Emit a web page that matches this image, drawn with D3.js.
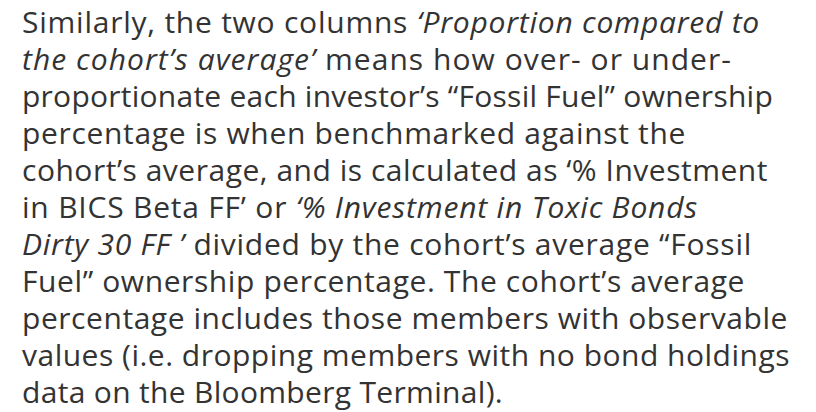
<!DOCTYPE html>
<html>
<head>
<meta charset="utf-8">
<script src="https://cdn.jsdelivr.net/npm/d3@7"></script>
<style>
  html, body { margin: 0; padding: 0; background: #fff; }
</style>
</head>
<body>
<svg id="chart"></svg>
<script>
// each line is a list of [text, italic] pieces
var lines = [
  [['Similarly, the two columns ', false], ['\u2018Proportion compared to', true]],
  [['the cohort\u2019s average\u2019', true], [' means how over- or under-', false]],
  [['proportionate each investor\u2019s \u201cFossil Fuel\u201d ownership', false]],
  [['percentage is when benchmarked against the', false]],
  [['cohort\u2019s average, and is calculated as \u2018% Investment', false]],
  [['in BICS Beta FF\u2019 or ', false], ['\u2018% Investment in Toxic Bonds', true]],
  [['Dirty 30 FF \u2019', true], [' divided by the cohort\u2019s average \u201cFossil', false]],
  [['Fuel\u201d ownership percentage. The cohort\u2019s average', false]],
  [['percentage includes those members with observable', false]],
  [['values (i.e. dropping members with no bond holdings', false]],
  [['data on the Bloomberg Terminal).', false]]
]
// right edge of each line
var lineEnds = [760, 732, 773, 686, 768, 698, 752, 745, 788, 790, 503]

var width = 816
var height = 412
var margin = {top: 33, left: 22}
var lineGap = 37

var svg = d3.select('#chart')
  .attr('width', width)
  .attr('height', height)

var y = d3.scaleLinear()
  .domain([0, lines.length - 1])
  .range([margin.top, margin.top + lineGap * (lines.length - 1)])

var text = svg.selectAll('text')
  .data(lines)
  .enter()
  .append('text')
  .attr('x', margin.left)
  .attr('y', function (d, i) { return y(i) })
  .attr('fill', '#333')
  .style('font-family', '"Open Sans", sans-serif')
  .style('font-size', '30px')

text.selectAll('tspan')
  .data(function (d) { return d })
  .enter()
  .append('tspan')
  .style('font-style', function (d) { return d[1] ? 'italic' : 'normal' })
  .style('white-space', 'pre')
  .text(function (d) { return d[0] })

// nudge the spacing so each line ends where it does in the picture
text.each(function (d, i) {
  var n = d.map(function (p) { return p[0] }).join('').length
  var w = this.getComputedTextLength()
  var extra = (lineEnds[i] - margin.left - w) / n
  d3.select(this).style('letter-spacing', extra + 'px')
})
</script>
</body>
</html>
